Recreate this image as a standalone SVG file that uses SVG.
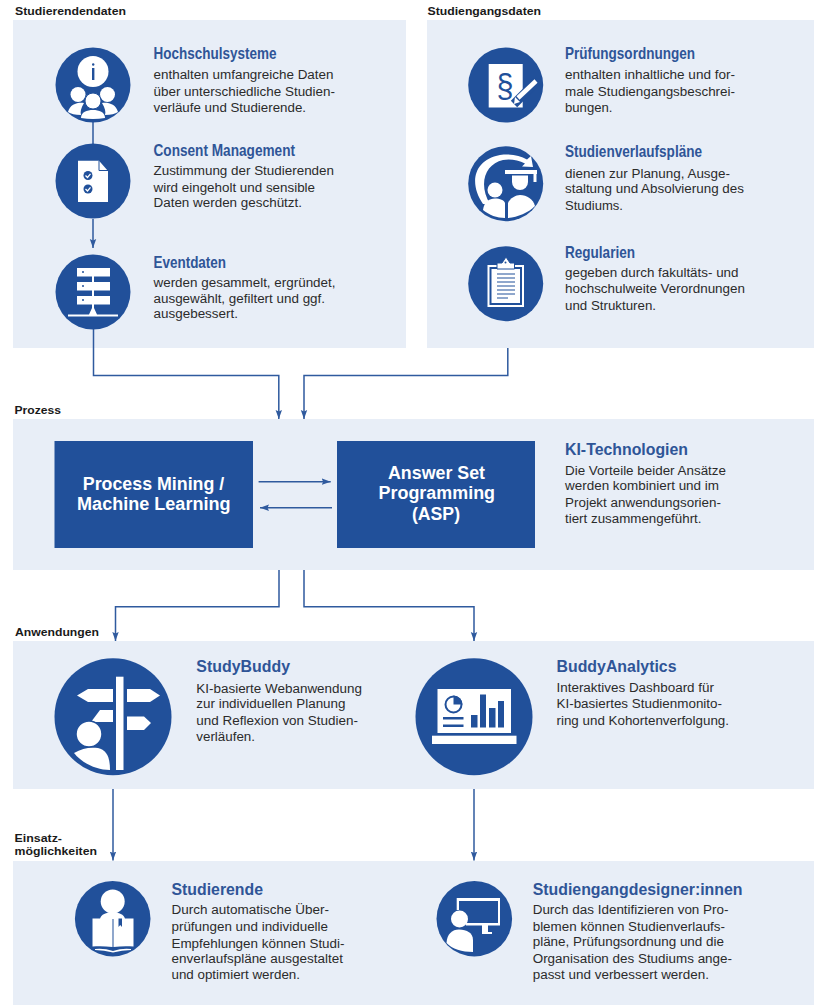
<svg xmlns="http://www.w3.org/2000/svg" width="814" height="1005" viewBox="0 0 814 1005">
<style>
text{font-family:"Liberation Sans",Arial,sans-serif}
.panel{fill:#e8eef7}
.c{fill:#21509a}
.w{fill:#fff}
.b{fill:#21509a}
.t{font-size:16.500px;font-weight:700;fill:#2f5597}
.x{font-size:12.500px;fill:#2b2b2b}
.l{font-size:11px;font-weight:700;fill:#1a1a1a}
.h{font-size:18px;font-weight:700;fill:#fff;text-anchor:middle}
.conn{fill:none;stroke:#2f5a9e;stroke-width:1.500}
.bs{fill:none;stroke:#21509a}
</style>
<defs>
<marker id="ah" markerUnits="userSpaceOnUse" markerWidth="10" markerHeight="8" refX="9" refY="3.500" orient="auto"><path d="M0,0.300L9,3.500L0,6.700L1.500,3.500z" fill="#2f5a9e"/></marker>
</defs>
<rect width="814" height="1005" fill="#fff"/>
<g id="panels">
<rect class="panel" x="13" y="20" width="393" height="328"/>
<rect class="panel" x="427" y="20" width="387" height="328"/>
<rect class="panel" x="13" y="419" width="801" height="151"/>
<rect class="panel" x="13" y="641" width="801" height="148"/>
<rect class="panel" x="13" y="861" width="801" height="144"/>
</g>
<g id="section-labels">
<text class="l" x="15" y="15" textLength="111" lengthAdjust="spacingAndGlyphs">Studierendendaten</text>
<text class="l" x="427.500" y="15" textLength="113.500" lengthAdjust="spacingAndGlyphs">Studiengangsdaten</text>
<text class="l" x="14.500" y="414.300" textLength="46.500" lengthAdjust="spacingAndGlyphs">Prozess</text>
<text class="l" x="15" y="636" textLength="84" lengthAdjust="spacingAndGlyphs">Anwendungen</text>
<text class="l" x="14.500" y="841.700" textLength="47.500" lengthAdjust="spacingAndGlyphs">Einsatz-</text>
<text class="l" x="14.500" y="855.300" textLength="82.500" lengthAdjust="spacingAndGlyphs">möglichkeiten</text>
</g>
<g id="connectors">
<path class="conn" d="M93,122V144"/>
<path class="conn" d="M93,219V248" marker-end="url(#ah)"/>
<path class="conn" d="M93.500,329V375.500H278.800V419" marker-end="url(#ah)"/>
<path class="conn" d="M507.800,348V375.500H304V419" marker-end="url(#ah)"/>
<path class="conn" d="M258.600,481.700H330.700" marker-end="url(#ah)"/>
<path class="conn" d="M332,507.700H260" marker-end="url(#ah)"/>
<path class="conn" d="M279,570V606.700H115.500V641" marker-end="url(#ah)"/>
<path class="conn" d="M304,570V606.700H474V641" marker-end="url(#ah)"/>
<path class="conn" d="M113,789V860.500" marker-end="url(#ah)"/>
<path class="conn" d="M474,789V860.500" marker-end="url(#ah)"/>
</g>
<g id="hochschulsysteme">
<circle class="c" cx="93" cy="85" r="37.500"/>
<circle class="w" cx="93" cy="71.500" r="15.500"/>
<rect class="b" x="92" y="68" width="2.400" height="12"/><circle class="b" cx="93.200" cy="64.500" r="1.200"/>
<circle class="w" cx="78" cy="94.500" r="7.500"/><circle class="w" cx="107.500" cy="94.500" r="7.500"/>
<path class="w" d="M68,112C70,104 78,102 84,103C81,108 80,112 81,115C75,115 71,114 68,112zM118,112C116,104 108,102 102,103C105,108 106,112 105,115C111,115 115,114 118,112z"/>
<circle class="w" cx="93" cy="101" r="8" stroke="#21509a" stroke-width="1"/>
<path class="w" d="M81,118C81,112 87,110 93,110C99,110 105,112 105,118Q93,120 81,118z"/>
<text class="t" x="153.500" y="59" textLength="123" lengthAdjust="spacingAndGlyphs">Hochschulsysteme</text>
<text class="x" x="153.500" y="79" textLength="180" lengthAdjust="spacingAndGlyphs">enthalten umfangreiche Daten</text>
<text class="x" x="153.500" y="95.500" textLength="181.500" lengthAdjust="spacingAndGlyphs">über unterschiedliche Studien-</text>
<text class="x" x="153.500" y="111.700" textLength="152.500" lengthAdjust="spacingAndGlyphs">verläufe und Studierende.</text>
</g>
<g id="consent-management">
<circle class="c" cx="93" cy="181" r="37.500"/>
<path class="w" d="M78,160.700H99L108,171V202H78z"/>
<path class="bs" d="M99,160.700V170.500H108" stroke-width="1"/>
<circle class="b" cx="88" cy="175.500" r="4.500"/><circle class="b" cx="88" cy="189" r="4.500"/>
<path d="M85.500,175.500L87.500,177.500L90.500,173.800M85.500,189L87.500,191L90.500,187.300" fill="none" stroke="#fff" stroke-width="1.300"/>
<text class="t" x="153.500" y="156" textLength="141.500" lengthAdjust="spacingAndGlyphs">Consent Management</text>
<text class="x" x="153.500" y="175" textLength="180.500" lengthAdjust="spacingAndGlyphs">Zustimmung der Studierenden</text>
<text class="x" x="153.500" y="191.700" textLength="161.500" lengthAdjust="spacingAndGlyphs">wird eingeholt und sensible</text>
<text class="x" x="153.500" y="207" textLength="148.500" lengthAdjust="spacingAndGlyphs">Daten werden geschützt.</text>
</g>
<g id="eventdaten">
<circle class="c" cx="93" cy="292" r="37.500"/>
<rect class="w" x="77" y="268" width="33" height="8.500"/><rect class="w" x="77" y="282" width="33" height="8.500"/><rect class="w" x="77" y="296" width="33" height="8.500"/>
<rect class="w" x="92" y="276" width="2" height="6"/><rect class="w" x="92" y="290" width="2" height="6"/><rect class="w" x="92" y="304" width="2" height="6"/>
<path class="w" d="M68,314.500H89L92,308H94L97,314.500H118V316.500H68z"/>
<circle class="b" cx="83" cy="272" r="1"/><circle class="b" cx="83" cy="286" r="1"/><circle class="b" cx="83" cy="300" r="1"/>
<text class="t" x="153.500" y="267.700" textLength="72.500" lengthAdjust="spacingAndGlyphs">Eventdaten</text>
<text class="x" x="153.500" y="287" textLength="182" lengthAdjust="spacingAndGlyphs">werden gesammelt, ergründet,</text>
<text class="x" x="153.500" y="303.300" textLength="171.500" lengthAdjust="spacingAndGlyphs">ausgewählt, gefiltert und ggf.</text>
<text class="x" x="153.500" y="318.300" textLength="84.500" lengthAdjust="spacingAndGlyphs">ausgebessert.</text>
</g>
<g id="pruefungsordnungen">
<circle class="c" cx="505.700" cy="85" r="37.500"/>
<rect class="w" x="488.700" y="64" width="34" height="43.500"/>
<text x="496.500" y="97" style="font-size:33px;fill:#21509a" textLength="17" lengthAdjust="spacingAndGlyphs">§</text>
<path d="M514,104L537,81" stroke="#21509a" stroke-width="9" fill="none"/>
<path d="M518,98L536,81" stroke="#fff" stroke-width="4.500" fill="none"/>
<path class="w" d="M515,97L520,102L514,104z"/>
<text class="t" x="565" y="59" textLength="130" lengthAdjust="spacingAndGlyphs">Prüfungsordnungen</text>
<text class="x" x="565" y="79" textLength="170" lengthAdjust="spacingAndGlyphs">enthalten inhaltliche und for-</text>
<text class="x" x="565" y="95.500" textLength="170" lengthAdjust="spacingAndGlyphs">male Studiengangsbeschrei-</text>
<text class="x" x="565" y="112" textLength="47.500" lengthAdjust="spacingAndGlyphs">bungen.</text>
</g>
<g id="studienverlaufsplaene">
<circle class="c" cx="505.700" cy="183.700" r="37.500"/>
<path class="w" d="M483,204C469,184 473,160 500,155C511,153.500 520,155.500 527,159.500L531,156L533,167L522,166.500L525,163.500C518,160 510,158.500 503,160C485,164 478,184 490,204z"/>
<rect class="w" x="505" y="170" width="32" height="4"/><rect class="w" x="533.500" y="171" width="3" height="11"/>
<circle class="w" cx="495" cy="190" r="7.500"/>
<path class="w" d="M483,210C484,202 489,198.500 495,198.500C500,198.500 504,200 505,203V218C497,218 489,215 483,210z"/>
<path class="w" d="M512,175.500H528V182A8,8 0 0 1 512,182z"/>
<path class="w" d="M508,218V203C510,198 516,195 520,195C527,195 533,199 535,206C528,213 518,217 508,218z"/>
<text class="t" x="565" y="157.300" textLength="137" lengthAdjust="spacingAndGlyphs">Studienverlaufspläne</text>
<text class="x" x="565" y="178" textLength="165" lengthAdjust="spacingAndGlyphs">dienen zur Planung, Ausge-</text>
<text class="x" x="565" y="193.300" textLength="179" lengthAdjust="spacingAndGlyphs">staltung und Absolvierung des</text>
<text class="x" x="565" y="209.700" textLength="58" lengthAdjust="spacingAndGlyphs">Studiums.</text>
</g>
<g id="regularien">
<circle class="c" cx="505.700" cy="283.700" r="37.500"/>
<rect x="488.500" y="266" width="34.500" height="40" fill="#21509a" stroke="#fff" stroke-width="2"/>
<rect class="w" x="491.500" y="269" width="28.500" height="34"/>
<path class="w" stroke="#21509a" stroke-width="1" d="M497,269V263H502L506,257L510,263H514.500V269z"/>
<circle class="b" cx="505.500" cy="262.500" r="1"/>
<path d="M497,274H515M497,278H515M497,282H515M497,286H515M497,290H515M497,294H515M497,298H508" stroke="#21509a" stroke-width="1.200" fill="none"/>
<text class="t" x="565" y="257.700" textLength="70" lengthAdjust="spacingAndGlyphs">Regularien</text>
<text class="x" x="565" y="277.300" textLength="173.500" lengthAdjust="spacingAndGlyphs">gegeben durch fakultäts- und</text>
<text class="x" x="565" y="293.300" textLength="180" lengthAdjust="spacingAndGlyphs">hochschulweite Verordnungen</text>
<text class="x" x="565" y="310" textLength="91" lengthAdjust="spacingAndGlyphs">und Strukturen.</text>
</g>
<g id="process-mining">
<rect class="c" x="54.500" y="441" width="198.500" height="107"/>
<text class="h" x="153.500" y="489.500" textLength="141.500" lengthAdjust="spacingAndGlyphs">Process Mining /</text>
<text class="h" x="153.800" y="510" textLength="153.500" lengthAdjust="spacingAndGlyphs">Machine Learning</text>
</g>
<g id="asp">
<rect class="c" x="337" y="441" width="198" height="107"/>
<text class="h" x="436.500" y="478.500" textLength="97" lengthAdjust="spacingAndGlyphs">Answer Set</text>
<text class="h" x="436.800" y="499" textLength="116.500" lengthAdjust="spacingAndGlyphs">Programming</text>
<text class="h" x="436" y="519.500" textLength="48" lengthAdjust="spacingAndGlyphs">(ASP)</text>
</g>
<g id="ki-technologien">
<text class="t" x="565" y="455" textLength="123" lengthAdjust="spacingAndGlyphs">KI-Technologien</text>
<text class="x" x="565" y="475.300" textLength="161" lengthAdjust="spacingAndGlyphs">Die Vorteile beider Ansätze</text>
<text class="x" x="565" y="490.300" textLength="154" lengthAdjust="spacingAndGlyphs">werden kombiniert und im</text>
<text class="x" x="565" y="506.700" textLength="156" lengthAdjust="spacingAndGlyphs">Projekt anwendungsorien-</text>
<text class="x" x="565" y="523.300" textLength="136.500" lengthAdjust="spacingAndGlyphs">tiert zusammengeführt.</text>
</g>
<g id="studybuddy">
<circle class="c" cx="113" cy="716.700" r="58.500"/>
<rect class="w" x="116" y="676.700" width="7.500" height="93.300"/>
<path class="w" d="M113,689V702H88L77,695.500L88,689z"/>
<path class="w" d="M127,689H150L160,695.500L150,702H127z"/>
<path class="w" d="M113,710V722H91L100,710z"/>
<path class="w" d="M127,716.500H144L151,723L144,730H127z"/>
<circle class="w" cx="89" cy="734" r="13" stroke="#21509a" stroke-width="1.500"/>
<path class="w" d="M74,753C82,748 90,747 98,748C106,750 110,756 110,770C96,770 82,763 74,753z"/>
<text class="t" x="196.300" y="672.300" textLength="93.700" lengthAdjust="spacingAndGlyphs">StudyBuddy</text>
<text class="x" x="196.300" y="693" textLength="165.700" lengthAdjust="spacingAndGlyphs">KI-basierte Webanwendung</text>
<text class="x" x="196.300" y="708.300" textLength="149.200" lengthAdjust="spacingAndGlyphs">zur individuellen Planung</text>
<text class="x" x="196.300" y="724.700" textLength="161.700" lengthAdjust="spacingAndGlyphs">und Reflexion von Studien-</text>
<text class="x" x="196.300" y="740.700" textLength="58.700" lengthAdjust="spacingAndGlyphs">verläufen.</text>
</g>
<g id="buddyanalytics">
<circle class="c" cx="474" cy="716.700" r="58.500"/>
<rect class="w" x="437.500" y="689" width="73.500" height="44"/>
<rect class="w" x="432" y="735.700" width="84.500" height="8.300"/>
<circle cx="453.500" cy="704.500" r="8" fill="none" stroke="#21509a" stroke-width="2"/>
<path class="b" d="M453.500,704.500V695.500A9,9 0 0 1 462.500,704.500z"/>
<rect class="b" x="443" y="717" width="20.500" height="2.500"/><rect class="b" x="443" y="724.500" width="20.500" height="2.500"/>
<rect class="b" x="471" y="715" width="6.500" height="12.500"/><rect class="b" x="480" y="694.500" width="6" height="33"/><rect class="b" x="489" y="708" width="6.500" height="19.500"/><rect class="b" x="498" y="701" width="6" height="26.500"/>
<text class="t" x="556.500" y="672.300" textLength="120" lengthAdjust="spacingAndGlyphs">BuddyAnalytics</text>
<text class="x" x="556.500" y="691.700" textLength="157.500" lengthAdjust="spacingAndGlyphs">Interaktives Dashboard für</text>
<text class="x" x="556.500" y="708.300" textLength="165.500" lengthAdjust="spacingAndGlyphs">KI-basiertes Studienmonito-</text>
<text class="x" x="556.500" y="724.700" textLength="172.500" lengthAdjust="spacingAndGlyphs">ring und Kohortenverfolgung.</text>
</g>
<g id="studierende">
<circle class="c" cx="112.700" cy="918.700" r="37.800"/>
<circle class="w" cx="112.700" cy="901.500" r="12"/>
<path class="w" d="M100,919C101,914 106,912.500 112.700,912.500C119,912.500 124,914 125,919z"/>
<path class="w" d="M92.500,918.500H112.500V947C105,946 98,946 92.500,946.500zM133.500,918.500H113.500V947C121,946 128,946 133.500,946.500z"/>
<path class="w" d="M95,949Q104,948 113,951Q122,948 131,949V950Q122,950 113,952.500Q104,950 95,950z"/>
<path class="b" d="M118.500,918.500H122V927L120.200,925L118.500,927z"/>
<text class="t" x="171.500" y="895" textLength="91.500" lengthAdjust="spacingAndGlyphs">Studierende</text>
<text class="x" x="171.500" y="914.300" textLength="157.500" lengthAdjust="spacingAndGlyphs">Durch automatische Über-</text>
<text class="x" x="171.500" y="931" textLength="156.500" lengthAdjust="spacingAndGlyphs">prüfungen und individuelle</text>
<text class="x" x="171.500" y="947.700" textLength="173" lengthAdjust="spacingAndGlyphs">Empfehlungen können Studi-</text>
<text class="x" x="171.500" y="962.700" textLength="171.500" lengthAdjust="spacingAndGlyphs">enverlaufspläne ausgestaltet</text>
<text class="x" x="171.500" y="979" textLength="128.500" lengthAdjust="spacingAndGlyphs">und optimiert werden.</text>
</g>
<g id="studiengangdesigner">
<circle class="c" cx="474.300" cy="918.700" r="37.800"/>
<path class="w" d="M456.700,898H500V925.500H488V932H492V934H482V925.500H466V923H498V901H459V910H456.700z"/>
<circle class="w" cx="459.500" cy="919" r="8.500"/>
<path class="w" d="M446.500,943C447,934 452,929.500 459,929.500C467,929.500 473,933 473,940V952C462,952 452,949 446.500,943z"/>
<text class="t" x="532.700" y="895" textLength="209.800" lengthAdjust="spacingAndGlyphs">Studiengangdesigner:innen</text>
<text class="x" x="532.700" y="914.300" textLength="195.800" lengthAdjust="spacingAndGlyphs">Durch das Identifizieren von Pro-</text>
<text class="x" x="532.700" y="931" textLength="192.300" lengthAdjust="spacingAndGlyphs">blemen können Studienverlaufs-</text>
<text class="x" x="532.700" y="946" textLength="191.300" lengthAdjust="spacingAndGlyphs">pläne, Prüfungsordnung und die</text>
<text class="x" x="532.700" y="962.700" textLength="199.300" lengthAdjust="spacingAndGlyphs">Organisation des Studiums ange-</text>
<text class="x" x="532.700" y="979" textLength="176.300" lengthAdjust="spacingAndGlyphs">passt und verbessert werden.</text>
</g>
</svg>
